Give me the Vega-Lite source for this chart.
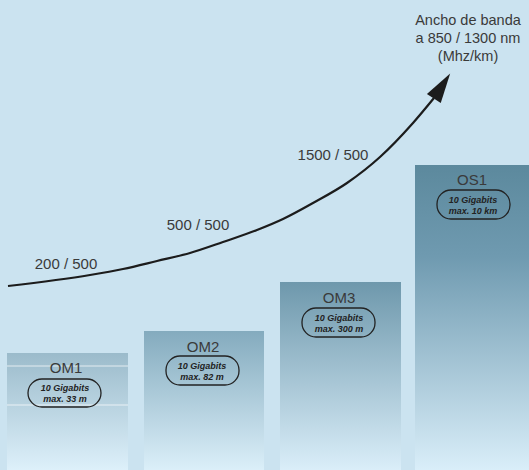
{
  "$schema": "https://vega.github.io/schema/vega-lite/v6.json",
  "width": 529,
  "height": 470,
  "autosize": {"type": "fit", "contains": "padding"},
  "padding": 0,
  "background": "#cbe3f0",
  "config": {"view": {"stroke": null}, "axis": {"disable": true}},
  "datasets": {
    "bars": [
      {"fibra": "OM1", "x0": 7, "x1": 128, "y0": 0, "y1": 117},
      {"fibra": "OM2", "x0": 144, "x1": 264, "y0": 0, "y1": 139},
      {"fibra": "OM3", "x0": 280, "x1": 401, "y0": 0, "y1": 188},
      {"fibra": "OS1", "x0": 415, "x1": 529, "y0": 0, "y1": 305}
    ],
    "names": [
      {"fibra": "OM1", "x": 66, "y": 102},
      {"fibra": "OM2", "x": 203, "y": 123},
      {"fibra": "OM3", "x": 339, "y": 172},
      {"fibra": "OS1", "x": 472, "y": 290}
    ],
    "pills": [
      {"fibra": "OM1", "x0": 28, "x1": 101, "y0": 63, "y1": 91, "xc": 65, "yc": 82, "txt": "10 Gigabits\nmax. 33 m"},
      {"fibra": "OM2", "x0": 166, "x1": 239, "y0": 85, "y1": 114, "xc": 202, "yc": 104, "txt": "10 Gigabits\nmax. 82 m"},
      {"fibra": "OM3", "x0": 302, "x1": 375, "y0": 133, "y1": 162, "xc": 339, "yc": 152, "txt": "10 Gigabits\nmax. 300 m"},
      {"fibra": "OS1", "x0": 437, "x1": 510, "y0": 251, "y1": 280, "xc": 473, "yc": 270, "txt": "10 Gigabits\nmax. 10 km"}
    ],
    "curve": [
      {"x": 8, "y": 184},
      {"x": 90, "y": 195},
      {"x": 123, "y": 201},
      {"x": 157, "y": 209},
      {"x": 190, "y": 217},
      {"x": 223, "y": 228},
      {"x": 257, "y": 240},
      {"x": 283, "y": 251},
      {"x": 313, "y": 267},
      {"x": 347, "y": 287},
      {"x": 380, "y": 313},
      {"x": 413, "y": 347},
      {"x": 434, "y": 372}
    ],
    "bw": [
      {"x": 66, "y": 206, "label": "200 / 500"},
      {"x": 198, "y": 245, "label": "500 / 500"},
      {"x": 333, "y": 315, "label": "1500 / 500"}
    ],
    "arrow": [{"x": 442, "y": 384}],
    "title": [{"x": 468, "y": 449, "label": "Ancho de banda\na 850 / 1300 nm\n(Mhz/km)"}],
    "streaks": [
      {"x0": 7, "x1": 128, "y": 104},
      {"x0": 7, "x1": 128, "y": 65}
    ]
  },
  "layer": [
    {
      "data": {"name": "bars"},
      "transform": [{"filter": "datum.fibra === 'OM1'"}],
      "mark": {"type": "rect", "color": {"gradient": "linear", "x1": 0, "y1": 0, "x2": 0, "y2": 1, "stops": [{"offset": 0, "color": "#9bbbcb"}, {"offset": 1, "color": "#ddf0fa"}]}},
      "encoding": {
        "x": {"field": "x0", "type": "quantitative", "scale": {"domain": [0, 529], "nice": false, "zero": false}},
        "x2": {"field": "x1"},
        "y": {"field": "y0", "type": "quantitative", "scale": {"domain": [0, 470], "nice": false, "zero": false}},
        "y2": {"field": "y1"}
      }
    },
    {
      "data": {"name": "bars"},
      "transform": [{"filter": "datum.fibra === 'OM2'"}],
      "mark": {"type": "rect", "color": {"gradient": "linear", "x1": 0, "y1": 0, "x2": 0, "y2": 1, "stops": [{"offset": 0, "color": "#84abbe"}, {"offset": 1, "color": "#dbeff9"}]}},
      "encoding": {
        "x": {"field": "x0", "type": "quantitative"},
        "x2": {"field": "x1"},
        "y": {"field": "y0", "type": "quantitative"},
        "y2": {"field": "y1"}
      }
    },
    {
      "data": {"name": "bars"},
      "transform": [{"filter": "datum.fibra === 'OM3'"}],
      "mark": {"type": "rect", "color": {"gradient": "linear", "x1": 0, "y1": 0, "x2": 0, "y2": 1, "stops": [{"offset": 0, "color": "#6e98ac"}, {"offset": 1, "color": "#daeef9"}]}},
      "encoding": {
        "x": {"field": "x0", "type": "quantitative"},
        "x2": {"field": "x1"},
        "y": {"field": "y0", "type": "quantitative"},
        "y2": {"field": "y1"}
      }
    },
    {
      "data": {"name": "bars"},
      "transform": [{"filter": "datum.fibra === 'OS1'"}],
      "mark": {"type": "rect", "color": {"gradient": "linear", "x1": 0, "y1": 0, "x2": 0, "y2": 1, "stops": [{"offset": 0, "color": "#5c899d"}, {"offset": 0.3, "color": "#6f9ab0"}, {"offset": 1, "color": "#d9eef9"}]}},
      "encoding": {
        "x": {"field": "x0", "type": "quantitative"},
        "x2": {"field": "x1"},
        "y": {"field": "y0", "type": "quantitative"},
        "y2": {"field": "y1"}
      }
    },
    {
      "data": {"name": "streaks"},
      "mark": {"type": "rule", "color": "#ffffff", "opacity": 0.7, "strokeWidth": 1},
      "encoding": {
        "x": {"field": "x0", "type": "quantitative"},
        "x2": {"field": "x1"},
        "y": {"field": "y", "type": "quantitative"}
      }
    },
    {
      "data": {"name": "names"},
      "mark": {"type": "text", "font": "Liberation Sans", "fontSize": 15, "color": "#3a3a3a", "baseline": "middle", "align": "center"},
      "encoding": {
        "x": {"field": "x", "type": "quantitative"},
        "y": {"field": "y", "type": "quantitative"},
        "text": {"field": "fibra", "type": "nominal"}
      }
    },
    {
      "data": {"name": "pills"},
      "mark": {"type": "rect", "fill": null, "fillOpacity": 0, "stroke": "#222222", "strokeWidth": 1.3, "cornerRadius": 14},
      "encoding": {
        "x": {"field": "x0", "type": "quantitative"},
        "x2": {"field": "x1"},
        "y": {"field": "y0", "type": "quantitative"},
        "y2": {"field": "y1"}
      }
    },
    {
      "data": {"name": "pills"},
      "mark": {"type": "text", "font": "Liberation Sans", "fontSize": 9, "fontWeight": "bold", "fontStyle": "italic", "color": "#222222", "baseline": "middle", "align": "center", "lineBreak": "\n", "lineHeight": 11},
      "encoding": {
        "x": {"field": "xc", "type": "quantitative"},
        "y": {"field": "yc", "type": "quantitative"},
        "text": {"field": "txt", "type": "nominal"}
      }
    },
    {
      "data": {"name": "curve"},
      "mark": {"type": "line", "color": "#1c1c1c", "strokeWidth": 2.2, "interpolate": "monotone"},
      "encoding": {
        "x": {"field": "x", "type": "quantitative"},
        "y": {"field": "y", "type": "quantitative"}
      }
    },
    {
      "data": {"name": "arrow"},
      "mark": {"type": "point", "shape": "M0,-1L0.55,1L-0.55,1Z", "size": 900, "angle": 33, "filled": true, "color": "#1c1c1c", "opacity": 1},
      "encoding": {
        "x": {"field": "x", "type": "quantitative"},
        "y": {"field": "y", "type": "quantitative"}
      }
    },
    {
      "data": {"name": "bw"},
      "mark": {"type": "text", "font": "Liberation Sans", "fontSize": 15, "color": "#3a3a3a", "baseline": "middle", "align": "center"},
      "encoding": {
        "x": {"field": "x", "type": "quantitative"},
        "y": {"field": "y", "type": "quantitative"},
        "text": {"field": "label", "type": "nominal"}
      }
    },
    {
      "data": {"name": "title"},
      "mark": {"type": "text", "font": "Liberation Sans", "fontSize": 14.5, "color": "#3a3a3a", "baseline": "middle", "align": "center", "lineBreak": "\n", "lineHeight": 18},
      "encoding": {
        "x": {"field": "x", "type": "quantitative"},
        "y": {"field": "y", "type": "quantitative"},
        "text": {"field": "label", "type": "nominal"}
      }
    }
  ]
}
